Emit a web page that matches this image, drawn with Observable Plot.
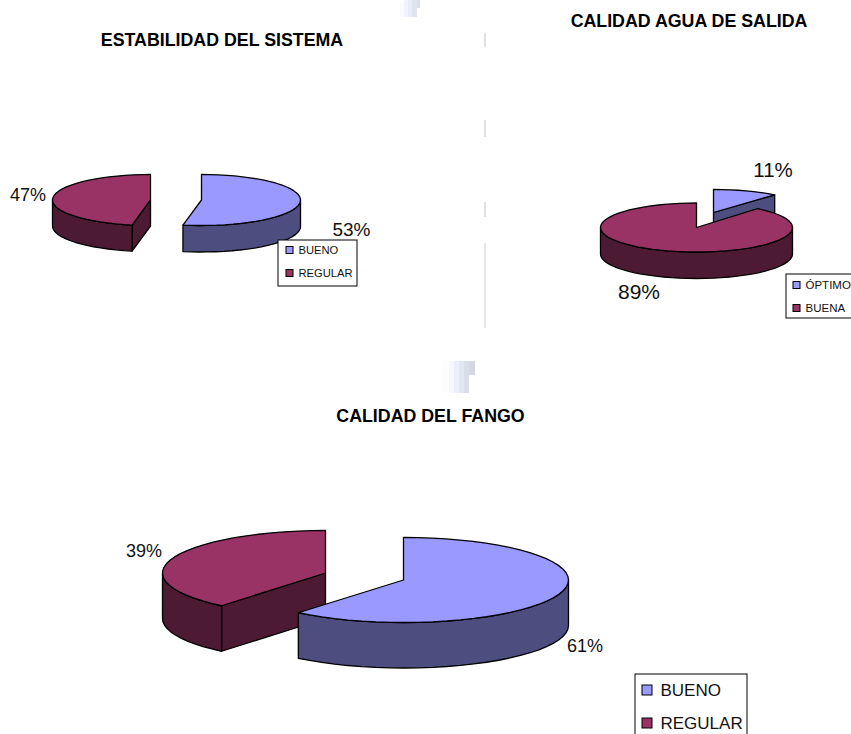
<!DOCTYPE html>
<html><head><meta charset="utf-8">
<script src="https://cdn.jsdelivr.net/npm/d3@7"></script>
<script src="https://cdn.jsdelivr.net/npm/@observablehq/plot@0.6"></script>
<style>html,body{margin:0;padding:0;background:#fff;overflow:hidden}svg{display:block}</style>
</head><body><div id="chart"></div>
<script>
// Chart values
const labelsA = ["BUENO", "REGULAR"];
const valuesA = [53, 47];
const labelsB = ["ÓPTIMO", "BUENA"];
const valuesB = [11, 89];
const labelsC = ["BUENO", "REGULAR"];
const valuesC = [61, 39];
const titles = ["ESTABILIDAD DEL SISTEMA", "CALIDAD AGUA DE SALIDA", "CALIDAD DEL FANGO"];

// Colours
const topColors = ["#9999FF", "#993366"];
const sideColors = ["#4D4D80", "#4D1A33"];

// Layout of each exploded slice: [cx, cy, rx, ry, depth], in page pixels
const layoutA = [[201, 199.5, 99, 25.5, 26.5], [150, 199.5, 98, 25.5, 26]];
const layoutB = [[713, 212, 96, 23, 27], [696, 227, 96, 24.5, 26.5]];
const layoutC = [[403, 579.5, 165, 42.5, 45.5], [325, 572.5, 163, 42.5, 45.5]];
// draw order (back-most slice first)
const orderA = [0, 1], orderB = [0, 1], orderC = [1, 0];

const rad = d => d * Math.PI / 180;
const pt = ([cx, cy, rx, ry], a, dz = 0) => ({x: cx + rx * Math.sin(rad(a)), y: cy - ry * Math.cos(rad(a)) + dz});
const arc = (l, a0, a1, dz = 0) => {
  const n = Math.max(1, Math.ceil(Math.abs(a1 - a0) / 5));
  return d3.range(n + 1).map(i => pt(l, a0 + (a1 - a0) * i / n, dz));
};
const closed = pts => [...pts, pts[0]];
const poly = (pts, fill) => Plot.line(closed(pts), {x: "x", y: "y", fill, stroke: "#000", strokeWidth: 1.3, strokeLinejoin: "round", curve: "linear"});

function pieMarks(values, layout, order) {
  const total = d3.sum(values);
  const bounds = values.map((_, i) => [d3.sum(values.slice(0, i)), d3.sum(values.slice(0, i + 1))].map(v => v / total * 360));
  const marks = [];
  for (const i of order) {
    const [a0, a1] = bounds[i], l = layout[i], d = l[4];
    const apex = {x: l[0], y: l[1]};
    // visible cut walls
    if (Math.sin(rad(a0)) < -1e-6 && a0 > 0) marks.push(poly([apex, pt(l, a0), pt(l, a0, d), {x: apex.x, y: apex.y + d}], sideColors[i]));
    if (Math.sin(rad(a1)) > 1e-6) marks.push(poly([apex, pt(l, a1), pt(l, a1, d), {x: apex.x, y: apex.y + d}], sideColors[i]));
    // visible rim
    const r0 = Math.max(a0, 90), r1 = Math.min(a1, 270);
    if (r1 > r0) marks.push(poly([...arc(l, r0, r1), ...arc(l, r1, r0, d)], sideColors[i]));
    // top face
    marks.push(poly([apex, ...arc(l, a0, a1)], topColors[i]));
  }
  return marks;
}

// Pale background fragments
const stripX1 = [400,404,408,412,417, 442,449,454,459,464,469, 484,484,484,484];
const stripX2 = [404,408,412,417,420, 449,454,459,464,469,475, 486,486,486,486];
const stripY1 = [3,0,0,0,0, 361,361,361,361,361,361, 33,120,202,243];
const stripY2 = [17,17,17,17,8, 393,393,393,393,393,375, 47,137,217,328];
const stripFill = ["#fbfbff","#f2f3fd","#e9ebf8","#e1e3ee","#dcdee6","#fdfdff","#f6f7ff","#eceefb","#e3e6f4","#dadde9","#d5d8e0","#dfe1ea","#dfe1ea","#dfe1ea","#e3e5ef"];
const strips = stripX1.map((x1, i) => ({x1, x2: stripX2[i], y1: stripY1[i], y2: stripY2[i], fill: stripFill[i]}));

// Titles
const titleX = [221.5, 688.5, 430];
const titleY = [40, 21, 416];
const titleData = titles.map((t, i) => ({t, x: titleX[i], y: titleY[i]}));

// Percent labels
const pctText = [valuesA[0], valuesA[1], valuesB[0], valuesB[1], valuesC[0], valuesC[1]].map(v => v + "%");
const pctX = [351, 27.5, 772.5, 638.5, 584.5, 143.5];
const pctY = [229, 195, 170, 291.5, 646, 551];
const pctSize = [19, 18, 20.5, 21, 18, 18];
const pctData = pctText.map((t, i) => ({t, x: pctX[i], y: pctY[i], s: pctSize[i]}));

// Legends
const boxes = [
  {x1: 278, x2: 357, y1: 240, y2: 286},
  {x1: 786, x2: 860, y1: 274, y2: 318},
  {x1: 635, x2: 747, y1: 674, y2: 745}
];
const legendRows = [
  {t: labelsA[0], c: 0, sx: 289.5, sy: 250, ss: 7, tx: 298, s: 11.2},
  {t: labelsA[1], c: 1, sx: 289.5, sy: 273, ss: 7, tx: 298, s: 11.2},
  {t: labelsB[0], c: 0, sx: 796.5, sy: 285, ss: 7, tx: 805, s: 11.5},
  {t: labelsB[1], c: 1, sx: 796.5, sy: 308, ss: 7, tx: 805, s: 11.5},
  {t: labelsC[0], c: 0, sx: 647, sy: 690, ss: 10, tx: 660, s: 17},
  {t: labelsC[1], c: 1, sx: 647, sy: 723, ss: 10, tx: 660, s: 17}
];
const FONT = "'Liberation Sans', Arial, sans-serif";

const plot = Plot.plot({
  width: 851, height: 734, margin: 0,
  x: {type: "linear", domain: [0, 851], range: [0, 851], axis: null},
  y: {type: "linear", domain: [0, 734], range: [0, 734], axis: null},
  style: {background: "#fff", fontFamily: FONT},
  marks: [
    ...strips.map(s => Plot.rect([s], {x1: "x1", x2: "x2", y1: "y1", y2: "y2", fill: s.fill})),
    ...pieMarks(valuesA, layoutA, orderA),
    ...pieMarks(valuesB, layoutB, orderB),
    ...pieMarks(valuesC, layoutC, orderC),
    Plot.text(titleData, {x: "x", y: "y", text: "t", fontSize: 17.8, fontWeight: 700, fill: "#000", textAnchor: "middle", lineAnchor: "middle"}),
    ...pctData.map(p => Plot.text([p], {x: "x", y: "y", text: "t", fontSize: p.s, fill: "#111", textAnchor: "middle", lineAnchor: "middle"})),
    Plot.rect(boxes, {x1: "x1", x2: "x2", y1: "y1", y2: "y2", fill: "#fff", stroke: "#000", strokeWidth: 1}),
    ...legendRows.map(r => Plot.rect([r], {
      x1: d => d.sx - d.ss / 2, x2: d => d.sx + d.ss / 2,
      y1: d => d.sy - d.ss / 2, y2: d => d.sy + d.ss / 2,
      fill: topColors[r.c], stroke: "#000", strokeWidth: 1
    })),
    ...legendRows.map(r => Plot.text([r], {x: "tx", y: "sy", text: "t", fontSize: r.s, fill: "#111", textAnchor: "start", lineAnchor: "middle"}))
  ]
});
document.getElementById("chart").append(plot);
</script></body></html>
